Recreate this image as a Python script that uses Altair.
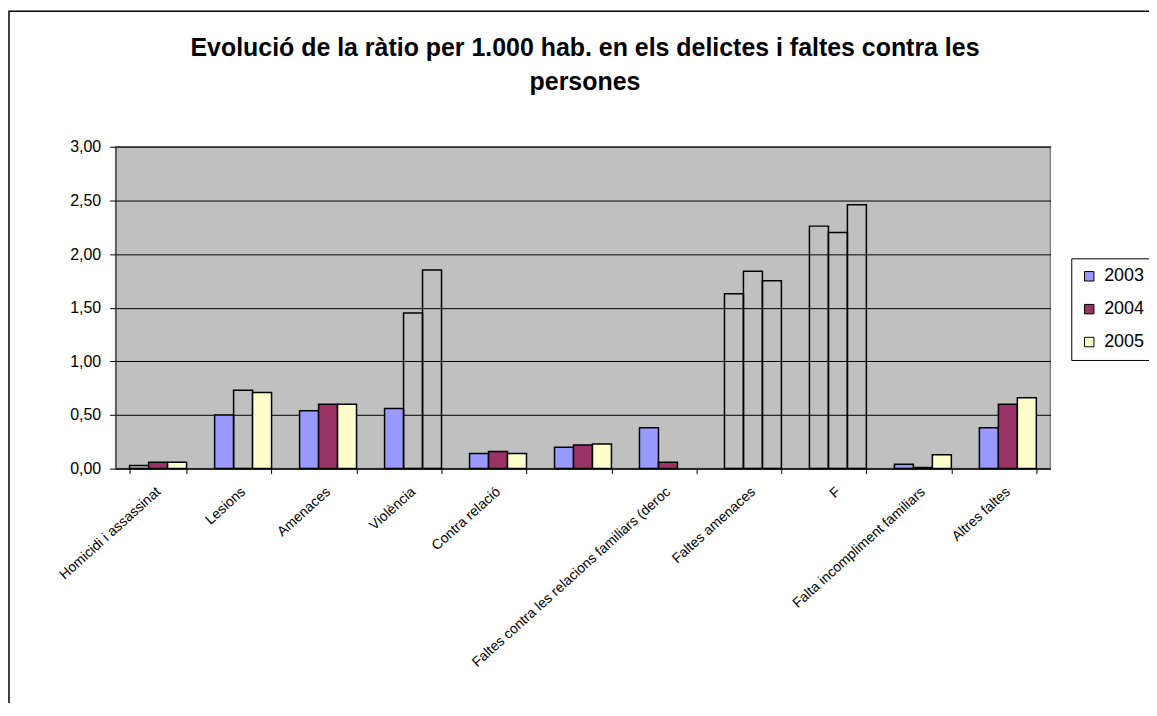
import altair as alt
import pandas as pd

title_lines = [
    "Evolució de la ràtio per 1.000 hab. en els delictes i faltes contra les",
    "persones",
]
categories = [
    "Homicidi i assassinat",
    "Lesions",
    "Amenaces",
    "Violència",
    "Contra relació",
    " ",
    "Faltes contra les relacions familiars (deroc",
    "Faltes amenaces",
    "F",
    "Falta incompliment familiars",
    "Altres faltes",
]
years = ["2003", "2004", "2005"]
v2003 = [0.03, 0.50, 0.54, 0.56, 0.14, 0.20, 0.38, 1.63, 2.26, 0.04, 0.38]
v2004 = [0.06, 0.73, 0.60, 1.45, 0.16, 0.22, 0.06, 1.84, 2.20, 0.01, 0.60]
v2005 = [0.06, 0.71, 0.60, 1.85, 0.14, 0.23, None, 1.75, 2.46, 0.13, 0.66]
# 1 = bar drawn with its series colour, 0 = bar drawn as outline only (as in the source)
f2003 = [0, 1, 1, 1, 1, 1, 1, 0, 0, 1, 1]
f2004 = [1, 0, 1, 0, 1, 1, 1, 0, 0, 1, 1]
f2005 = [1, 1, 1, 0, 1, 1, 1, 0, 0, 1, 1]
colors = ["#9999FF", "#993366", "#FFFFCC"]

rows = []
for yr, vals, fl in zip(years, [v2003, v2004, v2005], [f2003, f2004, f2005]):
    for c, v, f in zip(categories, vals, fl):
        if v is not None:
            rows.append({"cat": c, "year": yr, "value": v, "filled": f})
df = pd.DataFrame(rows)

bars = alt.Chart(df).mark_bar(stroke="black", strokeWidth=1.5).encode(
    x=alt.X(
        "cat:N",
        sort=categories,
        scale=alt.Scale(paddingInner=0.33, paddingOuter=0.165),
        axis=alt.Axis(
            title=None,
            labelAngle=-42,
            labelAlign="right",
            labelBaseline="middle",
            labelFontSize=14,
            labelPadding=16,
            labelLimit=400,
            tickBand="extent",
            tickSize=5,
            domainColor="#000000",
        ),
    ),
    xOffset=alt.XOffset("year:N", sort=years, scale=alt.Scale(paddingInner=0, paddingOuter=0)),
    y=alt.Y(
        "value:Q",
        scale=alt.Scale(domain=[0, 3], nice=False),
        axis=alt.Axis(
            title=None,
            values=[0, 0.5, 1, 1.5, 2, 2.5, 3],
            labelExpr="replace(format(datum.value, '.2f'), '.', ',')",
            labelFontSize=16,
            labelPadding=9,
            tickSize=6,
            grid=True,
            gridColor="#000000",
            gridWidth=1,
            domainColor="#333333",
        ),
    ),
    fill=alt.condition(
        "datum.filled == 1",
        alt.Fill(
            "year:N",
            sort=years,
            scale=alt.Scale(domain=years, range=colors),
            legend=alt.Legend(
                title=None,
                orient="none",
                legendX=959,
                legendY=112,
                labelFontSize=18,
                symbolType="square",
                symbolSize=90,
                symbolStrokeColor="black",
                symbolStrokeWidth=1,
                rowPadding=15,
                padding=9,
                strokeColor="black",
                fillColor="white",
                labelOffset=6,
            ),
        ),
        alt.value("transparent"),
    ),
)

one = alt.Data(values=[{"k": 1}])

border = alt.Chart(one).mark_rect(
    fillOpacity=0, stroke="black", strokeWidth=1.5
).encode(
    x=alt.value(-107), x2=alt.value(1300), y=alt.value(-136), y2=alt.value(900)
)

title_style = dict(
    font="Liberation Sans", fontSize=25, fontWeight="bold", color="black",
    align="center", baseline="middle",
)
title1 = alt.Chart(one).mark_text(text=title_lines[0], **title_style).encode(
    x=alt.value(471), y=alt.value(-99)
)
title2 = alt.Chart(one).mark_text(text=title_lines[1], **title_style).encode(
    x=alt.value(471), y=alt.value(-65)
)

chart = alt.layer(border, title1, title2, bars).properties(
    width=938,
    height=323,
    padding={"left": 108, "top": 138, "right": 99, "bottom": 234},
    autosize=alt.AutoSizeParams(type="none"),
).configure_view(
    fill="#C0C0C0", stroke="#808080", strokeWidth=1.5
).configure_axis(
    labelFont="Liberation Sans", labelColor="black", tickColor="black"
).configure_legend(
    labelFont="Liberation Sans", labelColor="black"
)

chart.save("out.html", embed_options={"renderer": "svg", "actions": False})
